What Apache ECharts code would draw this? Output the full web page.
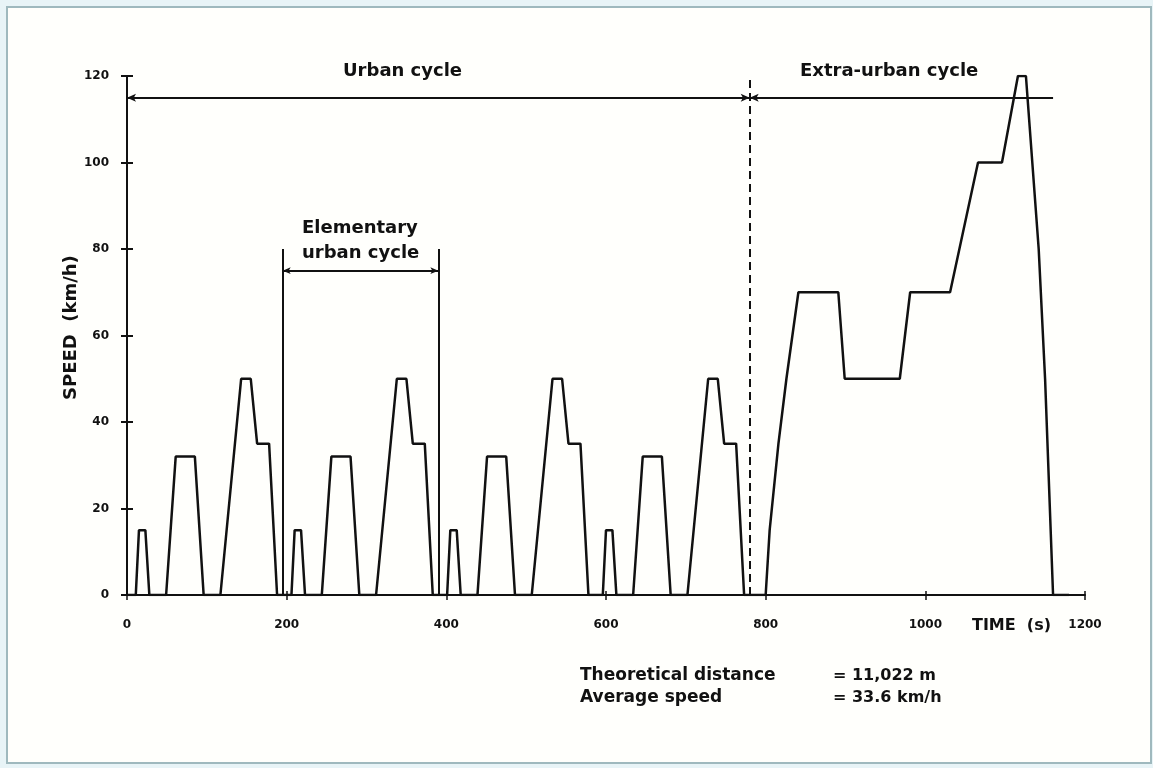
<!DOCTYPE html>
<html>
<head>
<meta charset="utf-8">
<title>NEDC driving cycle</title>
<script src="https://cdn.jsdelivr.net/npm/echarts@6/dist/echarts.min.js"></script>
<style>
  html, body { margin: 0; padding: 0; background: #e8f4f7; }
  #chart { width: 1153px; height: 768px; }
</style>
</head>
<body>
<div id="chart"></div>
<script>
// Speed profile: time (s) and speed (km/h) breakpoints
const timeS = [
  0, 11, 15, 23, 28, 49, 61, 85, 96, 117, 143, 155, 163, 178, 188,
  206, 210, 218, 223, 244, 256, 280, 291, 312, 338, 350, 358, 373, 383,
  401, 405, 413, 418, 439, 451, 475, 486, 507, 533, 545, 553, 568, 578,
  596, 600, 608, 613, 634, 646, 670, 681, 702, 728, 740, 748, 763, 773,
  800, 805, 807, 816, 818, 826, 828, 841, 891, 899, 968, 981, 1031, 1066, 1096, 1116, 1126, 1142, 1150, 1160, 1180
];
const speedKmh = [
  0, 0, 15, 15, 0, 0, 32, 32, 0, 0, 50, 50, 35, 35, 0,
  0, 15, 15, 0, 0, 32, 32, 0, 0, 50, 50, 35, 35, 0,
  0, 15, 15, 0, 0, 32, 32, 0, 0, 50, 50, 35, 35, 0,
  0, 15, 15, 0, 0, 32, 32, 0, 0, 50, 50, 35, 35, 0,
  0, 15, 15, 35, 35, 50, 50, 70, 70, 50, 50, 70, 70, 100, 100, 120, 120, 80, 50, 0, 0
];

// Cycle boundaries and annotation levels
const elementaryCycle = [195, 390];   // s
const urbanEnd = 780;                 // s
const extraUrbanEnd = 1160;           // s
const cycleArrowLevel = 115;          // km/h
const elementaryArrowLevel = 75;      // km/h
const elementaryBracketTop = 80;      // km/h
const xTicks = { min: 0, max: 1200, step: 200 };
const yTicks = { min: 0, max: 120, step: 20 };

const FONT = '"DejaVu Sans", sans-serif';
const INK = '#111';
const plainNumber = v => String(v);

const chart = echarts.init(document.getElementById('chart'), null, { renderer: 'canvas' });

const seriesData = timeS.map((t, i) => [t, speedKmh[i]]);

const baseAxisX = {
  type: 'value', min: xTicks.min, max: xTicks.max, interval: xTicks.step,
  splitLine: { show: false }
};
const baseAxisY = {
  type: 'value', min: yTicks.min, max: yTicks.max, interval: yTicks.step,
  splitLine: { show: false }
};
const hiddenLine = { show: true, lineStyle: { color: 'rgba(0,0,0,0)', width: 0 } };

const option = {
  backgroundColor: 'transparent',
  animation: false,
  grid: { left: 127, right: 68, top: 76, bottom: 173 },
  xAxis: [
    Object.assign({}, baseAxisX, {
      position: 'bottom',
      axisLine: { show: true, lineStyle: { color: INK, width: 2 } },
      axisTick: { show: true, length: 5, lineStyle: { color: INK, width: 1.5 } },
      axisLabel: { color: INK, fontFamily: FONT, fontWeight: 'bold', fontSize: 12, margin: 24,
                   formatter: plainNumber }
    }),
    // inner half of the crossing tick marks
    Object.assign({}, baseAxisX, {
      position: 'bottom',
      axisLine: hiddenLine,
      axisTick: { show: true, inside: true, length: 4, lineStyle: { color: INK, width: 1.5 } },
      axisLabel: { show: false }
    })
  ],
  yAxis: [
    Object.assign({}, baseAxisY, {
      position: 'left',
      axisLine: { show: true, lineStyle: { color: INK, width: 2 } },
      axisTick: { show: true, length: 6, lineStyle: { color: INK, width: 2 } },
      axisLabel: { color: INK, fontFamily: FONT, fontWeight: 'bold', fontSize: 12, margin: 18,
                   formatter: plainNumber }
    }),
    Object.assign({}, baseAxisY, {
      position: 'left',
      axisLine: hiddenLine,
      axisTick: { show: true, inside: true, length: 6, lineStyle: { color: INK, width: 2 } },
      axisLabel: { show: false }
    })
  ],
  series: [{
    type: 'line',
    xAxisIndex: 0,
    yAxisIndex: 0,
    data: seriesData,
    showSymbol: false,
    symbol: 'none',
    lineStyle: { color: INK, width: 2.5 },
    z: 5,
    markLine: {
      silent: true,
      animation: false,
      label: { show: false },
      lineStyle: { color: INK, width: 2, type: 'solid' },
      data: [
        // Urban cycle span
        [
          { coord: [xTicks.min, cycleArrowLevel], symbol: 'arrow', symbolSize: [6, 9] },
          { coord: [urbanEnd, cycleArrowLevel], symbol: 'arrow', symbolSize: [6, 9] }
        ],
        // Extra-urban cycle span
        [
          { coord: [urbanEnd, cycleArrowLevel], symbol: 'arrow', symbolSize: [6, 9] },
          { coord: [extraUrbanEnd, cycleArrowLevel], symbol: 'none' }
        ],
        // Boundary between the two parts
        [
          { coord: [urbanEnd, yTicks.min], symbol: 'none',
            lineStyle: { type: [8, 5], width: 2, color: INK } },
          { coord: [urbanEnd, yTicks.max], symbol: 'none' }
        ],
        // Elementary urban cycle bracket
        [
          { coord: [elementaryCycle[0], yTicks.min], symbol: 'none', lineStyle: { width: 2, color: INK } },
          { coord: [elementaryCycle[0], elementaryBracketTop], symbol: 'none' }
        ],
        [
          { coord: [elementaryCycle[1], yTicks.min], symbol: 'none', lineStyle: { width: 2, color: INK } },
          { coord: [elementaryCycle[1], elementaryBracketTop], symbol: 'none' }
        ],
        [
          { coord: [elementaryCycle[0], elementaryArrowLevel], symbol: 'arrow', symbolSize: [5, 8] },
          { coord: [elementaryCycle[1], elementaryArrowLevel], symbol: 'arrow', symbolSize: [5, 8] }
        ]
      ]
    }
  }],
  graphic: [
    // Page frame
    {
      type: 'rect', z: -10, silent: true,
      shape: { x: 7, y: 7, width: 1144, height: 756 },
      style: { fill: '#fffffc', stroke: '#9fb9be', lineWidth: 2 }
    },
    {
      type: 'text', left: 343, top: 62,
      style: { text: 'Urban cycle', font: 'bold 18px ' + FONT, fill: INK }
    },
    {
      type: 'text', left: 800, top: 62,
      style: { text: 'Extra-urban cycle', font: 'bold 18px ' + FONT, fill: INK }
    },
    {
      type: 'text', left: 302, top: 216,
      style: { text: 'Elementary\nurban cycle', font: 'bold 18px ' + FONT, fill: INK, lineHeight: 25 }
    },
    {
      type: 'text', x: 62, y: 400, rotation: Math.PI / 2,
      style: { text: 'SPEED  (km/h)', font: 'bold 18px ' + FONT, fill: INK,
               textAlign: 'left', textVerticalAlign: 'top' }
    },
    {
      type: 'text', left: 972, top: 618,
      style: { text: 'TIME  (s)', font: 'bold 16px ' + FONT, fill: INK }
    },
    {
      type: 'text', left: 580, top: 665,
      style: { text: 'Theoretical distance\nAverage speed', font: 'bold 17px ' + FONT, fill: INK, lineHeight: 22 }
    },
    {
      type: 'text', left: 833, top: 665,
      style: { text: '= 11,022 m\n= 33.6 km/h', font: 'bold 16px ' + FONT, fill: INK, lineHeight: 22 }
    }
  ]
};

chart.setOption(option);
</script>
</body>
</html>
